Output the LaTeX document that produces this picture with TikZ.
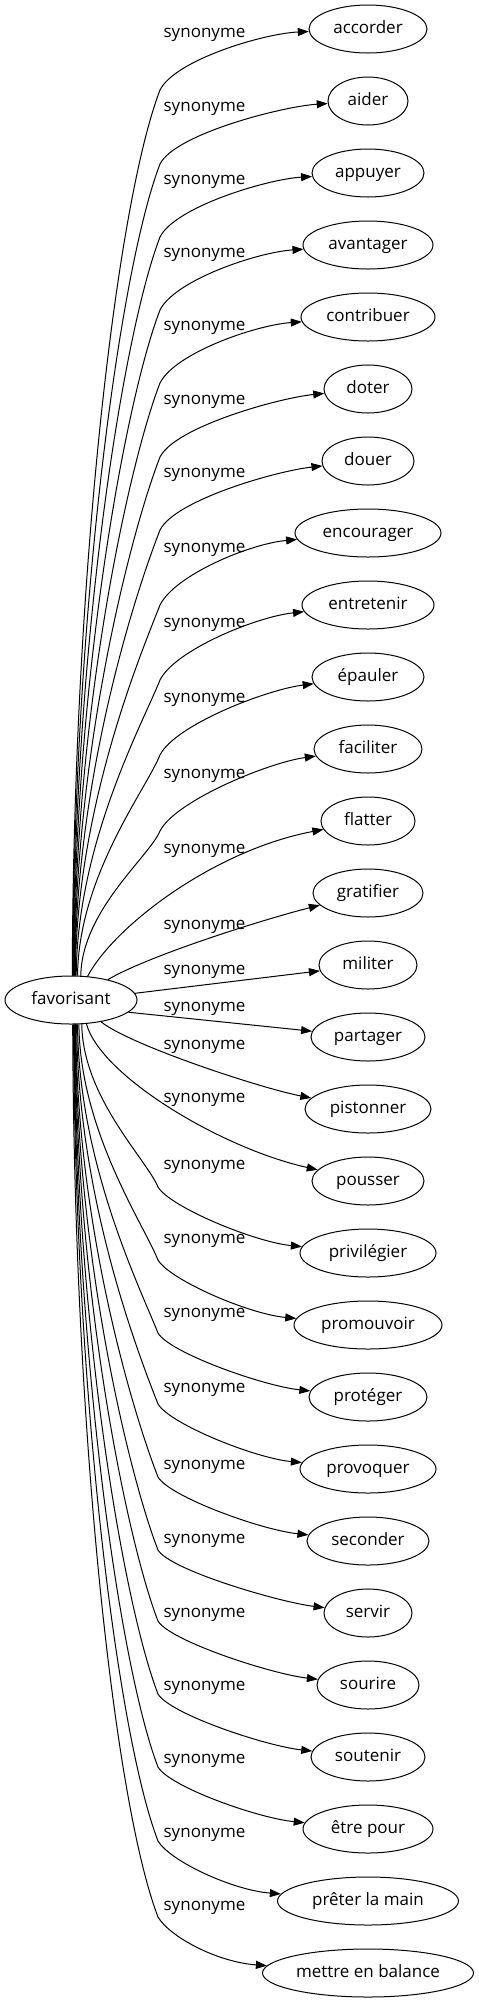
\documentclass[tikz,border=0pt]{standalone}
\usepackage{fontspec}
\setmainfont{Open Sans}
\usetikzlibrary{arrows.meta,calc,shapes.geometric}
\newcommand\gvfont{\fontsize{17}{20}\selectfont}
\tikzset{
  tgt/.style={draw, ellipse, inner sep=0pt, minimum height=48pt, font=\gvfont,
              text height=12.5pt, text depth=3.5pt, line width=1pt},
  lab/.style={font=\gvfont, anchor=base, inner sep=0pt},
  syn/.style={line width=1pt, -{Triangle[length=11pt,width=8pt]}}
}
\begin{document}
\begin{tikzpicture}[x=1pt,y=-1pt]
\fill[white] (0,0) rectangle (479,2003);
\useasboundingbox (0,0) rectangle (479,2003);
\node[tgt, minimum width=132pt] (fav) at (71,1000) {favorisant};
\foreach \i/\t/\w in {0/accorder/118,1/aider/80,2/appuyer/112,3/avantager/130,
  4/contribuer/134,5/doter/88,6/douer/92,7/encourager/146,8/entretenir/132,
  9/épauler/112,10/faciliter/108,11/flatter/94,12/gratifier/110,13/militer/98,
  14/partager/114,15/pistonner/126,16/pousser/112,17/privilégier/136,
  18/promouvoir/148,19/protéger/118,20/provoquer/136,21/seconder/122,22/servir/88,
  23/sourire/102,24/soutenir/114,25/être pour/130,26/prêter la main/181,
  27/mettre en balance/211}{
  \node[tgt, minimum width=\w pt] (n\i) at (368,{29+72*\i}) {\t};
}
% labels
\foreach \i/\Ly in {0/33,1/107,2/180,3/253,4/326,5/400,6/473,7/548,8/623,9/698,10/774,
  11/849,12/925,13/970,14/1007,15/1045,16/1098,17/1165,18/1239,19/1313,20/1388,
  21/1465,22/1539,23/1613,24/1686,25/1759,26/1833,27/1906}{
  \node[lab] (l\i) at (204.5,{\Ly+4.5}) {synonyme};
}
% upper edges
\foreach \i/\Ly/\th in {0/33/87,1/107/86,2/180/85,3/253/84,4/326/83,5/400/82,6/473/81,
  7/548/80,8/623/78,9/698/75,10/774/68}{
  \pgfmathsetmacro\Ky{\Ly+57}
  \pgfmathsetmacro\h{976-\Ky}
  \pgfmathsetmacro\ca{0.45*\h}
  \pgfmathsetmacro\cx{160-0.045*\h-4}
  \pgfmathsetmacro\cy{\Ky+0.12*\h+8}
  \pgfmathsetmacro\cz{\Ky-30}
  \pgfmathsetmacro\s{45*(0.10+0.02*\i)}
  \draw[syn] (fav.\th) .. controls ($(fav.\th)+(1,-\ca)$) and (\cx,\cy) .. (160,\Ky)
     .. controls (175,\cz) and ($(n\i.west)+(-45,\s)$) .. (n\i);
}
% middle edges
\draw[syn] (fav.55) .. controls (115,925) and (215,850) .. (n11);
\draw[syn] (fav.29) .. controls (150,955) and (265,919) .. (n12);
\draw[syn] (fav.6) -- (n13);
\draw[syn] (fav.-12) -- (n14);
\draw[syn] (fav.-36) .. controls (130,1045) and (260,1088) .. (n15);
\draw[syn] (fav.-57) .. controls (100,1075) and (220,1148) .. (n16);
% lower edges
\foreach \i/\Ly/\k/\th in {17/1165/22/-66,18/1239/21/-72,19/1313/20/-75,20/1388/16/-77,
  21/1465/12/-79,22/1539/11/-80,23/1613/8/-81,24/1686/8/-82,25/1759/8/-83,
  26/1833/8/-84,27/1906/11/-86}{
  \pgfmathsetmacro\Ky{\Ly+\k}
  \pgfmathsetmacro\h{\Ky-1024}
  \pgfmathsetmacro\ca{0.45*\h}
  \pgfmathsetmacro\cx{158-0.045*\h-4}
  \pgfmathsetmacro\cy{\Ky-0.12*\h-8}
  \pgfmathsetmacro\cz{\Ky+20}
  \draw[syn] (fav.\th) .. controls ($(fav.\th)+(1,\ca)$) and (\cx,\cy) .. (158,\Ky)
     .. controls (170,\cz) and ($(n\i.west)+(-45,-11)$) .. (n\i);
}
\end{tikzpicture}
\end{document}
